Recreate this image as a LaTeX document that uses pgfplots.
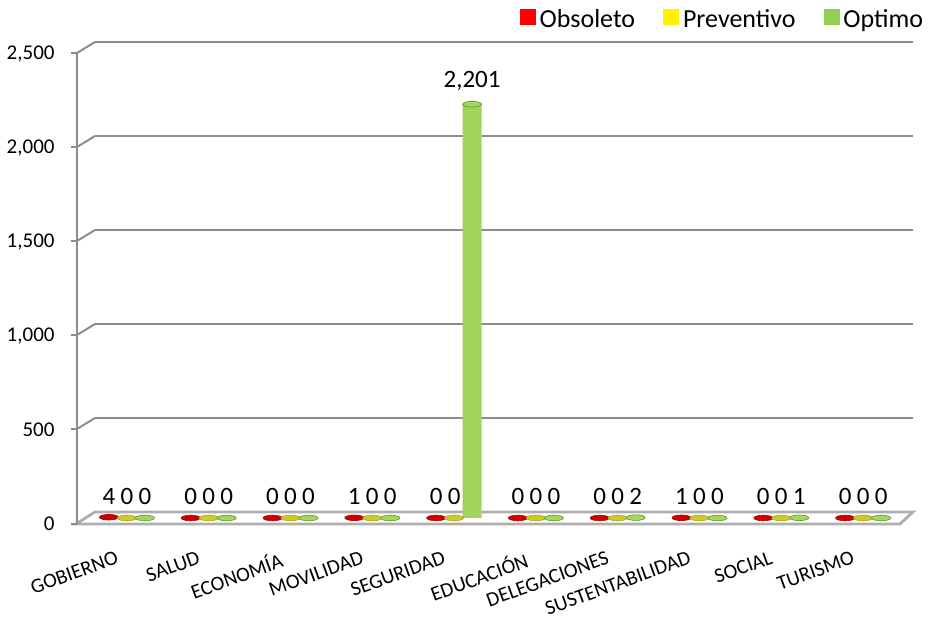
\documentclass[border=0pt]{standalone}
\usepackage{pgfplots}
\pgfplotsset{compat=1.18}
\usepackage{pgfplotstable}
\usepackage{fontspec}
\setmainfont{Carlito}
\definecolor{gridgray}{HTML}{8C8C8C}
\definecolor{cRed}{HTML}{D00000}
\definecolor{cYel}{HTML}{CCCC22}
\definecolor{cGrn}{HTML}{7BAF3E}
\definecolor{gDark}{HTML}{5E9228}
\definecolor{gLight}{HTML}{A8DC62}
\definecolor{legGrn}{HTML}{92D050}
\pgfdeclareplotmark{disc}{\pgfpathellipse{\pgfpointorigin}{\pgfqpoint{4.75pt}{0pt}}{\pgfqpoint{0pt}{1.4pt}}\pgfusepathqfillstroke}
\pgfplotstableread{
cat obs prev opt
0 4 0 0
1 0 0 0
2 0 0 0
3 1 0 0
4 0 0 2201
5 0 0 0
6 0 0 2
7 1 0 0
8 0 0 1
9 0 0 0
}\datatable
\begin{document}
\begin{tikzpicture}
\useasboundingbox (0,0) rectangle (464pt,310pt);
\begin{axis}[
  at={(47.5pt,54pt)}, anchor=south west,
  scale only axis, width=409pt, height=235pt,
  xmin=-0.5, xmax=9.5, ymin=0, ymax=2500,
  clip=false,
  axis line style={draw=none},
  major tick length=0pt,
  ytick={0,500,1000,1500,2000,2500},
  xtick={0,...,9},
  xticklabels={GOBIERNO,SALUD,ECONOMÍA,MOVILIDAD,SEGURIDAD,EDUCACIÓN,DELEGACIONES,SUSTENTABILIDAD,SOCIAL,TURISMO},
  xticklabel style={rotate=20, anchor=north east, xshift=-13pt, yshift=-11pt, font=\fontsize{10.3}{12}\selectfont},
  yticklabel style={xshift=-16.7pt, yshift=-6pt, font=\fontsize{10.5}{12}\selectfont},
  /pgf/number format/.cd, 1000 sep={,}, assume math mode=true, /pgfplots/.cd,
  ymajorgrids, grid style={gridgray, line width=1pt},
  nodes near coords style={font=\fontsize{12.5}{14}\selectfont, anchor=south, yshift=3pt, text=black},
  legend style={draw=none, fill=none, at={(1.025,1.047)}, anchor=east, font=\fontsize{13}{15}\selectfont,
    legend columns=3, /tikz/every even column/.append style={column sep=12pt}},
]
% floor
\draw[gridgray!70, line width=1.4pt, fill=white] (rel axis cs:0,0) -- (rel axis cs:1,0) -- ([xshift=-6.5pt,yshift=-6pt]rel axis cs:1,0) -- ([xshift=-9.5pt,yshift=-6pt]rel axis cs:0,0) -- cycle;
% front axis line, diagonals and tick marks
\draw[gridgray, line width=1pt] ([xshift=-9pt,yshift=-6pt]axis cs:-0.5,0) -- ([xshift=-9pt,yshift=-5.5pt]axis cs:-0.5,2500);
\draw[gridgray, line width=1pt] ([xshift=-9pt,yshift=-5.5pt]axis cs:-0.5,500) -- (axis cs:-0.5,500);
\draw[gridgray, line width=1pt] ([xshift=-9pt,yshift=-5.5pt]axis cs:-0.5,1000) -- (axis cs:-0.5,1000);
\draw[gridgray, line width=1pt] ([xshift=-9pt,yshift=-5.5pt]axis cs:-0.5,1500) -- (axis cs:-0.5,1500);
\draw[gridgray, line width=1pt] ([xshift=-9pt,yshift=-5.5pt]axis cs:-0.5,2000) -- (axis cs:-0.5,2000);
\draw[gridgray, line width=1pt] ([xshift=-9pt,yshift=-5.5pt]axis cs:-0.5,2500) -- (axis cs:-0.5,2500);
\draw[gridgray, line width=1pt] ([xshift=-12pt,yshift=-6pt]axis cs:-0.5,0) -- ([xshift=-9pt,yshift=-6pt]axis cs:-0.5,0);
\draw[gridgray, line width=1pt] ([xshift=-12pt,yshift=-5.5pt]axis cs:-0.5,500) -- ([xshift=-9pt,yshift=-5.5pt]axis cs:-0.5,500);
\draw[gridgray, line width=1pt] ([xshift=-12pt,yshift=-5.5pt]axis cs:-0.5,1000) -- ([xshift=-9pt,yshift=-5.5pt]axis cs:-0.5,1000);
\draw[gridgray, line width=1pt] ([xshift=-12pt,yshift=-5.5pt]axis cs:-0.5,1500) -- ([xshift=-9pt,yshift=-5.5pt]axis cs:-0.5,1500);
\draw[gridgray, line width=1pt] ([xshift=-12pt,yshift=-5.5pt]axis cs:-0.5,2000) -- ([xshift=-9pt,yshift=-5.5pt]axis cs:-0.5,2000);
\draw[gridgray, line width=1pt] ([xshift=-12pt,yshift=-5.5pt]axis cs:-0.5,2500) -- ([xshift=-9pt,yshift=-5.5pt]axis cs:-0.5,2500);
% bars
\addplot[ybar, bar width=9.5pt, bar shift=0pt, fill=cRed, draw=none, xshift=-4.5pt, yshift=-3pt, nodes near coords, forget plot]
  table[x expr=\thisrow{cat}-0.22, y=obs]{\datatable};
\addplot[ybar, bar width=9.5pt, bar shift=0pt, fill=cYel, draw=none, xshift=-4.5pt, yshift=-3pt, nodes near coords, forget plot]
  table[x expr=\thisrow{cat}, y=prev]{\datatable};
\addplot[ybar, bar width=9.5pt, bar shift=0pt, left color=gDark, right color=gDark, middle color=gLight, draw=none, xshift=-4.5pt, yshift=-3pt, nodes near coords, forget plot]
  table[x expr=\thisrow{cat}+0.22, y=opt]{\datatable};
% cylinder tops
\addplot[only marks, mark=disc, mark options={fill=cRed, draw=cRed!80!black, line width=0.3pt}, xshift=-4.5pt, yshift=-3pt, forget plot]
  table[x expr=\thisrow{cat}-0.22, y=obs]{\datatable};
\addplot[only marks, mark=disc, mark options={fill=cYel, draw=cYel!80!black, line width=0.3pt}, xshift=-4.5pt, yshift=-3pt, forget plot]
  table[x expr=\thisrow{cat}, y=prev]{\datatable};
\addplot[only marks, mark=disc, mark options={fill=gLight!90!cGrn, draw=gDark, line width=0.3pt}, xshift=-4.5pt, yshift=-3pt, forget plot]
  table[x expr=\thisrow{cat}+0.22, y=opt]{\datatable};
% legend
\addlegendimage{legend image code/.code={\fill[red] (-1.5pt,-2.3pt) rectangle (6pt,5.2pt);}}
\addlegendentry{Obsoleto}
\addlegendimage{legend image code/.code={\fill[yellow] (-1.5pt,-2.3pt) rectangle (6pt,5.2pt);}}
\addlegendentry{Preventivo}
\addlegendimage{legend image code/.code={\fill[legGrn] (-1.5pt,-2.3pt) rectangle (6pt,5.2pt);}}
\addlegendentry{Optimo}
\end{axis}
\end{tikzpicture}
\end{document}
